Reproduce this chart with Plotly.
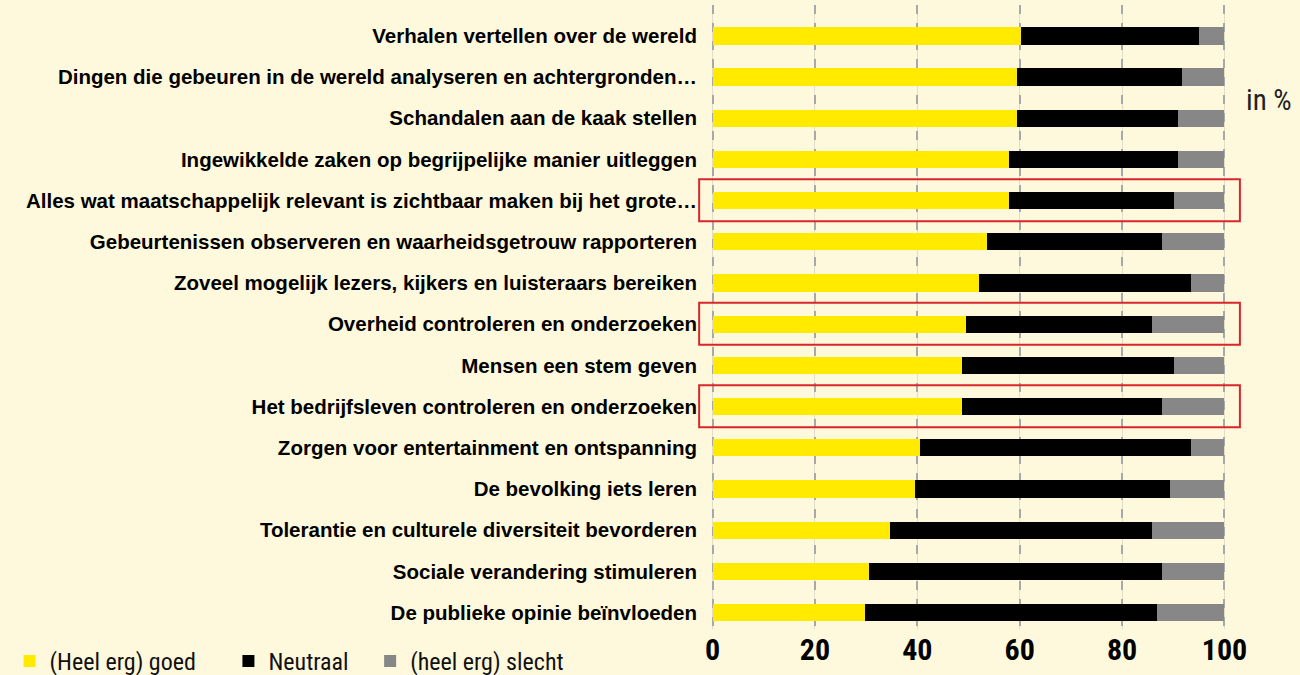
import plotly.graph_objects as go

categories = [
    "Verhalen vertellen over de wereld",
    "Dingen die gebeuren in de wereld analyseren en achtergronden…",
    "Schandalen aan de kaak stellen",
    "Ingewikkelde zaken op begrijpelijke manier uitleggen",
    "Alles wat maatschappelijk relevant is zichtbaar maken bij het grote…",
    "Gebeurtenissen observeren en waarheidsgetrouw rapporteren",
    "Zoveel mogelijk lezers, kijkers en luisteraars bereiken",
    "Overheid controleren en onderzoeken",
    "Mensen een stem geven",
    "Het bedrijfsleven controleren en onderzoeken",
    "Zorgen voor entertainment en ontspanning",
    "De bevolking iets leren",
    "Tolerantie en culturele diversiteit bevorderen",
    "Sociale verandering stimuleren",
    "De publieke opinie beïnvloeden",
]
goed = [60.3, 59.5, 59.5, 57.9, 57.9, 53.7, 52.1, 49.6, 48.7, 48.7, 40.6, 39.6, 34.7, 30.5, 29.7]
neutraal = [34.8, 32.3, 31.5, 33.1, 32.2, 34.0, 41.4, 36.3, 41.4, 39.0, 52.9, 49.7, 51.2, 57.2, 57.1]
slecht = [round(100 - g - n, 1) for g, n in zip(goed, neutraal)]
highlighted = [
    "Alles wat maatschappelijk relevant is zichtbaar maken bij het grote…",
    "Overheid controleren en onderzoeken",
    "Het bedrijfsleven controleren en onderzoeken",
]
series_names = ["(Heel erg) goed", "Neutraal", "(heel erg) slecht"]
tick_vals = [0, 20, 40, 60, 80, 100]

LABEL_FONT = "Liberation Sans, Arial, sans-serif"
NARROW = "Liberation Sans Narrow, Roboto Condensed, Arial Narrow, sans-serif"
BG = "#fef9dc"
colors = ["#ffea00", "#000000", "#878787"]
pads = ["\u00a0" * 5, "\u00a0" * 3, ""]

idx = list(range(len(categories)))
fig = go.Figure()
for name, vals, col, pad in zip(series_names, [goed, neutraal, slecht], colors, pads):
    fig.add_trace(go.Bar(
        y=idx, x=vals, name=name + pad, orientation="h",
        marker=dict(color=col, line=dict(width=0)),
        width=0.42,
    ))

# dashed overlay grid
fig.add_trace(go.Scatter(x=[0], y=[0], xaxis="x2", mode="markers",
                         marker=dict(opacity=0), showlegend=False, hoverinfo="skip"))

for cat in highlighted:
    i = categories.index(cat)
    fig.add_shape(type="rect", xref="paper", yref="y", x0=-0.023, x1=1.027,
                  y0=i - 0.52, y1=i + 0.5, line=dict(color="#d9262b", width=2),
                  fillcolor="rgba(0,0,0,0)", layer="above")

fig.add_annotation(text="in %", xref="paper", yref="paper", x=1.034, y=0.847,
                   xanchor="left", yanchor="middle", showarrow=False,
                   font=dict(family=NARROW, size=29, color="#222222"))

fig.update_layout(
    barmode="stack",
    width=1300, height=675,
    paper_bgcolor=BG, plot_bgcolor=BG,
    margin=dict(l=711, r=74, t=5, b=46, autoexpand=False),
    font=dict(family=LABEL_FONT, color="#000000"),
    xaxis=dict(range=[-0.3, 100.3], tickvals=tick_vals, showgrid=True,
               gridcolor="#e2ddc6", gridwidth=1, zeroline=False,
               tickfont=dict(family=NARROW, size=30, color="#000000", weight="bold"),
               ticks="", showline=False, fixedrange=True),
    xaxis2=dict(range=[-0.3, 100.3], tickvals=tick_vals, overlaying="x", showgrid=True,
                gridcolor="#a8a8a8", griddash="dash", gridwidth=1.5,
                showticklabels=False, zeroline=False, showline=False),
    yaxis=dict(range=[14.4, -0.75], tickvals=idx, ticktext=categories,
               showgrid=False, zeroline=False, ticks="", ticklabelstandoff=13,
               tickfont=dict(family=LABEL_FONT, size=20.5, color="#000000", weight="bold"),
               fixedrange=True),
    legend=dict(orientation="h", x=-1.362, y=-0.052, xanchor="left", yanchor="middle",
                font=dict(family=NARROW, size=24, color="#111111"),
                bgcolor="rgba(0,0,0,0)", itemwidth=30, traceorder="normal"),
    showlegend=True,
)
fig.write_html("out.html", config={"displayModeBar": False},
               post_script="document.body.style.margin='0';")
